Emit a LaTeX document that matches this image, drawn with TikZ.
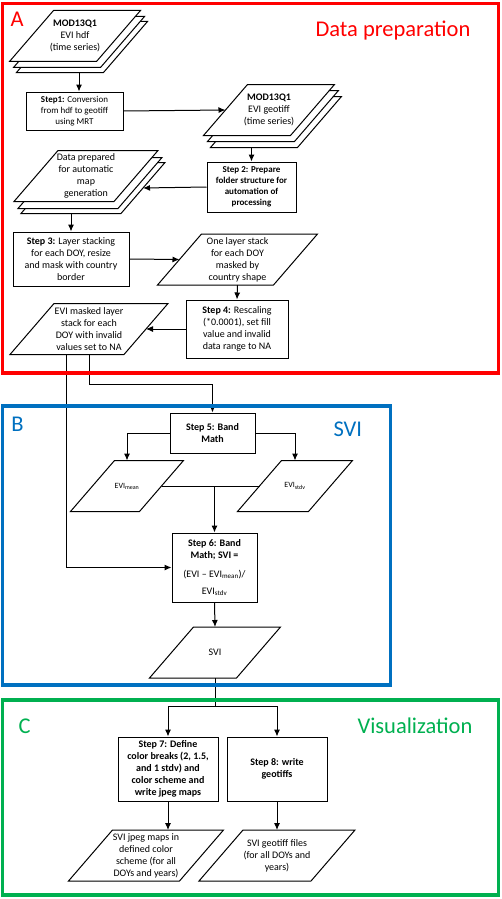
\documentclass[tikz,border=0pt]{standalone}
\usepackage{fontspec}
\setmainfont{Carlito}
\usetikzlibrary{arrows.meta}
\definecolor{framered}{RGB}{255,0,0}
\definecolor{frameblue}{RGB}{0,112,192}
\definecolor{framegreen}{RGB}{0,176,80}

\tikzset{
  stepbox/.style={draw, fill=white, rectangle, align=center, inner sep=1pt, font=\fontsize{10}{12}\selectfont},
  datafile/.style={rectangle, align=center, inner sep=0pt, minimum height=50pt, font=\fontsize{10}{12}\selectfont,
    append after command={\pgfextra{\filldraw[fill=white]
      ([xshift=22pt]\tikzlastnode.north west) -- ([xshift=22pt]\tikzlastnode.north east) --
      ([xshift=-22pt]\tikzlastnode.south east) -- ([xshift=-22pt]\tikzlastnode.south west) -- cycle;}}},
  framelabel/.style={anchor=base west, inner sep=0pt, font=\fontsize{22.5}{26}\selectfont},
}

\begin{document}
\begin{tikzpicture}[x=1pt, y=-1pt, line width=1pt, >={Latex[length=7pt,width=6pt]}]
    \useasboundingbox (0,0) rectangle (502,899);

    % A: data preparation
    \node[datafile, minimum width=86pt] (hdfc) at (82,47) {};
    \node[datafile, minimum width=86pt] (hdfb) at (79,42) {};
    \node[datafile, minimum width=86pt] (hdf) at (75,36) {\textbf{MOD13Q1}\\EVI hdf\\(time series)};

    \node[stepbox, minimum width=97pt, minimum height=38pt, font=\fontsize{9}{11}\selectfont] (step1) at (74.5,111) {\textbf{Step1:} Conversion\\from hdf to geotiff\\using MRT};

    \node[datafile, minimum width=86pt] (geoc) at (276,122) {};
    \node[datafile, minimum width=86pt] (geob) at (273,116) {};
    \node[datafile, minimum width=86pt] (geo) at (269,110) {\textbf{MOD13Q1}\\EVI geotiff\\(time series)};

    \node[stepbox, minimum width=89pt, minimum height=50pt, font=\fontsize{9}{11}\selectfont\bfseries] (step2) at (251.5,187) {Step 2: Prepare\\folder structure for\\automation of\\processing};

    \node[datafile, minimum width=99pt] (prepc) at (93,188) {};
    \node[datafile, minimum width=99pt] (prepb) at (90,183) {};
    \node[datafile, minimum width=99pt] (prep) at (86,176) {Data prepared\\for automatic\\map\\generation};

    \node[stepbox, minimum width=116pt, minimum height=54pt] (step3) at (71,259) {\textbf{Step 3:} Layer stacking\\for each DOY, resize\\and mask with country\\border};
    \node[datafile, minimum width=115pt] (onestack) at (237.5,259.5) {One layer stack\\for each DOY\\masked by\\country shape};
    \node[stepbox, minimum width=102pt, minimum height=58pt] (step4) at (237,329) {\textbf{Step 4:} Rescaling\\(*0.0001), set fill\\value and invalid\\data range to NA};
    \node[datafile, minimum width=113pt] (evimasked) at (89,329) {EVI masked layer\\stack for each\\DOY with invalid\\values set to NA};

    % B: SVI
    \node[stepbox, minimum width=85pt, minimum height=40pt, font=\fontsize{10}{12}\selectfont\bfseries] (step5) at (212.5,433) {Step 5: Band\\Math};
    \node[datafile, minimum width=68pt, font=\fontsize{8}{10}\selectfont] (evimean) at (127,486) {EVI\textsubscript{mean}};
    \node[datafile, minimum width=70pt, font=\fontsize{8}{10}\selectfont] (evistdv) at (295,486) {EVI\textsubscript{stdv}};
    \node[stepbox, minimum width=85pt, minimum height=69pt] (step6) at (214.5,567.5) {\textbf{Step 6: Band}\\\textbf{Math; SVI =}\\[7pt](EVI -- EVI\textsubscript{mean})/\\[5pt]EVI\textsubscript{stdv}};
    \node[datafile, minimum width=86pt] (svi) at (215,652.5) {SVI};

    % C: visualization
    \node[stepbox, minimum width=100pt, minimum height=64pt, font=\fontsize{10}{12}\selectfont\bfseries] (step7) at (168,769) {Step 7: Define\\color breaks (2, 1.5,\\and 1 stdv) and\\color scheme and\\write jpeg maps};
    \node[stepbox, minimum width=100pt, minimum height=64pt, font=\fontsize{10}{12}\selectfont\bfseries] (step8) at (277,769) {Step 8: write\\geotiffs};
    \node[datafile, minimum width=110pt] (svijpeg) at (146,855.5) {SVI jpeg maps in\\defined color\\scheme (for all\\DOYs and years)};
    \node[datafile, minimum width=111pt] (svigeo) at (277,855.5) {SVI geotiff files\\(for all DOYs and\\years)};

    % connectors
    \draw[->] ([xshift=-3pt]hdfc.south) -- ([xshift=-3pt]hdfc.south |- step1.north);
    \draw[->] (step1.east) -- (geo.west);
    \draw[->] (step2.north |- geoc.south) -- (step2.north);
    \draw[->] (step2.west) -- (prepc.east);
    \draw[->] (step3.north |- prepc.south) -- (step3.north);
    \draw[->] (step3.east) -- (onestack.west);
    \draw[->] (onestack.south) -- (step4.north);
    \draw[->] (step4.west) -- (evimasked.east);
    \draw[->] ([xshift=-23pt]evimasked.south) |- (step6.west);
    \draw[->] (evimasked.south) -- ++(0,30) -| (step5.north);
    \draw[->] (step5.west) -| (evimean.north);
    \draw[->] (step5.east) -| (evistdv.north);
    \draw (evimean.east) -- (evistdv.west);
    \draw[->] (evimean.east -| step6.north) -- (step6.north);
    \draw[->] (step6.south) -- (svi.north);
    \draw (svi.south) -- ++(0,28) coordinate (split);
    \draw[->] (split) -| (step7.north);
    \draw[->] (split) -| (step8.north);
    \draw[->] (step7.south) -- (step7.south |- svijpeg.north);
    \draw[->] (step8.south) -- (svigeo.north);

    % frames
    \draw[framered, line width=3.2pt] (2.5,3.5) rectangle (498.5,373);
    \draw[frameblue, line width=3.2pt] (2.5,406) rectangle (390.5,685);
    \draw[framegreen, line width=3.2pt] (2.5,700) rectangle (498.5,895);
    \node[framelabel, framered] (labela) at (10,27) {A};
    \node[framelabel, framered] (titlea) at (315,37) {Data preparation};
    \node[framelabel, frameblue] (labelb) at (11,431) {B};
    \node[framelabel, frameblue] (titleb) at (333,436) {SVI};
    \node[framelabel, framegreen] (labelc) at (18,733) {C};
    \node[framelabel, framegreen] (titlec) at (357,733) {Visualization};

\end{tikzpicture}
\end{document}
